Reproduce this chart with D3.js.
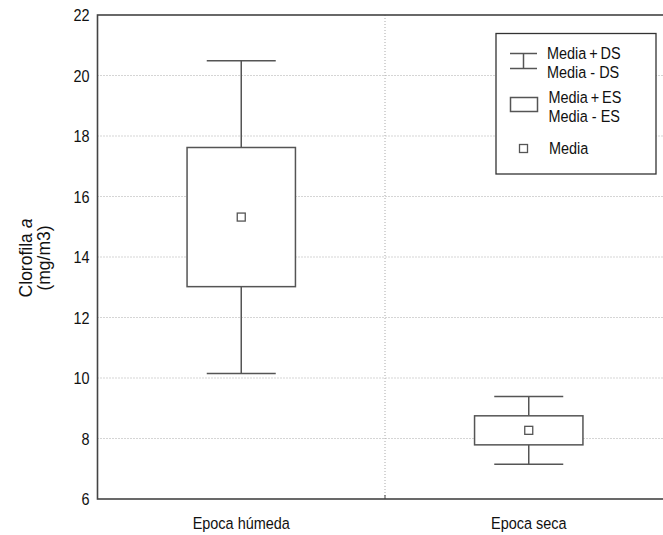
<!DOCTYPE html>
<html><head><meta charset="utf-8">
<script src="https://cdn.jsdelivr.net/npm/d3@7"></script>
<style>body{margin:0;background:#fff}svg{display:block}text{font-family:"Liberation Sans",Arial,sans-serif;fill:#111}</style>
</head><body>
<svg id="c" width="663" height="535"></svg>
<script>
const categories = ["Epoca húmeda", "Epoca seca"];
const means = [15.32, 8.27];
const se = [2.3, 0.48];
const sd = [5.17, 1.12];
const yTicks = [6, 8, 10, 12, 14, 16, 18, 20, 22];
const legendLabels = [["Media\u2009+\u2009DS", "Media - DS"], ["Media\u2009+\u2009ES", "Media - ES"], ["Media"]];

const svg = d3.select("#c");
const L = 97.5, R = 672.5, T = 15, B = 499;
const y = d3.scaleLinear().domain([6, 22]).range([B, T]);
const x = d3.scaleBand().domain(categories).range([L, R]);
const bw = x.bandwidth();
const lineCol = "#555";
const FS = "17px", SX = 0.85;

// gridlines
const g = svg.append("g");
g.selectAll("line.h").data(yTicks.slice(1, -1)).join("line")
  .attr("x1", L).attr("x2", R).attr("y1", d => y(d)).attr("y2", d => y(d))
  .attr("stroke", "#aaa").attr("stroke-width", 1).attr("stroke-dasharray", "1,2");
g.append("line").attr("x1", x(categories[1])).attr("x2", x(categories[1]))
  .attr("y1", T).attr("y2", B).attr("stroke", "#aaa").attr("stroke-dasharray", "1,2");
g.append("line").attr("x1", x(categories[1])).attr("x2", x(categories[1]))
  .attr("y1", B - 4).attr("y2", B).attr("stroke", "#444");

function label(parent, px, py, s, anchor) {
  return parent.append("text")
    .attr("transform", `translate(${px},${py}) scale(${SX},1)`)
    .attr("dy", "0.36em").attr("text-anchor", anchor || "start")
    .style("font-size", FS).text(s);
}

// y axis labels
const ya = svg.append("g");
yTicks.forEach(d => label(ya, L - 8, y(d), d, "end"));

// x labels
const xa = svg.append("g");
categories.forEach(c => label(xa, x(c) + bw / 2, 523, c, "middle"));

// y title
const yt = svg.append("g").attr("transform", "translate(26,258) rotate(-90)");
const t1 = yt.append("text").attr("text-anchor", "middle").attr("dy", "0.36em").style("font-size", "17.5px");
t1.append("tspan").text("Clorofila ");
t1.append("tspan").style("font-style", "italic").text("a");
yt.append("text").attr("y", 18).attr("dy", "0.36em").attr("text-anchor", "middle").style("font-size", "17.5px").text("(mg/m3)");

// boxes
const data = categories.map((c, i) => ({ c, m: means[i], se: se[i], sd: sd[i] }));
const boxW = bw * 0.377, capW = bw * 0.24;
const bx = svg.append("g").attr("fill", "none").attr("stroke", lineCol).attr("stroke-width", 1.5);
data.forEach(d => {
  const cx = x(d.c) + bw / 2;
  bx.append("line").attr("x1", cx).attr("x2", cx).attr("y1", y(d.m + d.sd)).attr("y2", y(d.m + d.se));
  bx.append("line").attr("x1", cx).attr("x2", cx).attr("y1", y(d.m - d.se)).attr("y2", y(d.m - d.sd));
  bx.append("line").attr("x1", cx - capW / 2).attr("x2", cx + capW / 2).attr("y1", y(d.m + d.sd)).attr("y2", y(d.m + d.sd));
  bx.append("line").attr("x1", cx - capW / 2).attr("x2", cx + capW / 2).attr("y1", y(d.m - d.sd)).attr("y2", y(d.m - d.sd));
  bx.append("rect").attr("x", cx - boxW / 2).attr("width", boxW)
    .attr("y", y(d.m + d.se)).attr("height", y(d.m - d.se) - y(d.m + d.se)).attr("fill", "#fff");
  bx.append("rect").attr("x", cx - 4).attr("y", y(d.m) - 4).attr("width", 8).attr("height", 8)
    .attr("fill", "#fff").attr("stroke-width", 1.3);
});

// frame
svg.append("rect").attr("x", L).attr("y", T).attr("width", R - L).attr("height", B - T)
  .attr("fill", "none").attr("stroke", "#444").attr("stroke-width", 1.6);

// legend
const lg = svg.append("g");
lg.append("rect").attr("x", 496).attr("y", 33.5).attr("width", 160).attr("height", 140.5)
  .attr("fill", "#fff").attr("stroke", "#333").attr("stroke-width", 1.3);
const ls = lg.append("g").attr("fill", "none").attr("stroke", lineCol).attr("stroke-width", 1.5);
ls.append("line").attr("x1", 510).attr("x2", 537).attr("y1", 53.5).attr("y2", 53.5);
ls.append("line").attr("x1", 510).attr("x2", 537).attr("y1", 68.5).attr("y2", 68.5);
ls.append("line").attr("x1", 523.5).attr("x2", 523.5).attr("y1", 53.5).attr("y2", 68.5);
ls.append("rect").attr("x", 510.5).attr("y", 97.5).attr("width", 27).attr("height", 14);
ls.append("rect").attr("x", 519.5).attr("y", 144.5).attr("width", 8).attr("height", 8).attr("stroke-width", 1.3);
const ly = [[53, 72], [97, 116], [148]];
const lx = [547, 548.5, 549];
legendLabels.forEach((arr, i) => arr.forEach((s, j) => label(lg, lx[i], ly[i][j], s)));
</script>
</body></html>
